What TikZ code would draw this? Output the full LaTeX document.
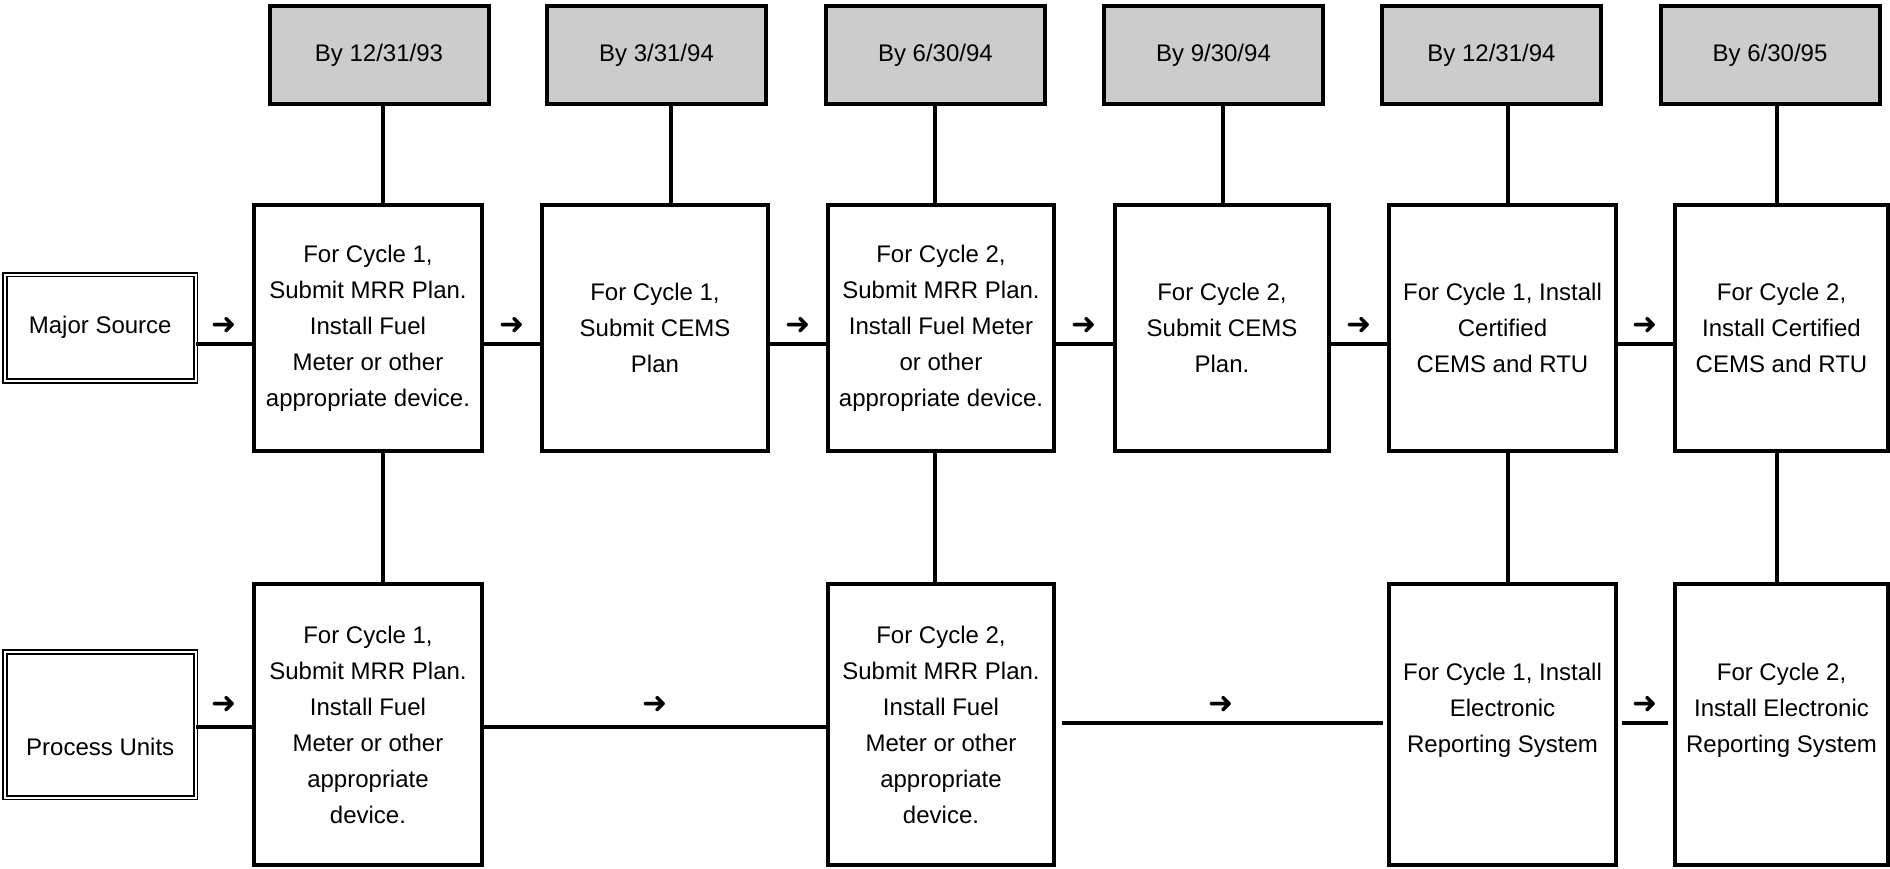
\documentclass[tikz,border=0pt]{standalone}
\usepackage{fontspec}
\setmainfont{Liberation Sans}
\newfontfamily\dingfont{DejaVu Sans}
\usetikzlibrary{positioning}
\tikzset{
  every picture/.append style={line join=miter},
  date box/.style={draw,line width=4pt,fill=black!20,minimum width=219pt,minimum height=98pt,inner sep=0pt,font=\fontsize{24}{36}\selectfont},
  step box/.style={draw,line width=4pt,minimum height=245pt,inner sep=0pt,align=center,font=\fontsize{24}{36}\selectfont},
  unit box/.style={step box,minimum height=281pt},
  unit text/.style={align=center,inner sep=0pt,yshift=14pt,font=\fontsize{24}{36}\selectfont},
  source box/.style={draw,line width=1.8pt,double,double distance=2pt,minimum width=190.5pt,inner sep=0pt,font=\fontsize{24}{36}\selectfont},
  link/.style={line width=4pt},
  flow mark/.style={midway,yshift=18pt,inner sep=0pt,font=\dingfont\fontsize{30}{30}\selectfont}
}

\begin{document}
\begin{tikzpicture}[x=1pt,y=-1pt]
  \useasboundingbox (0,0) rectangle (1890,869);

  % deadlines
  \node[date box] (due1) at (379,55) {By 12/31/93};
  \node[date box] (due2) at (656.5,55) {By 3/31/94};
  \node[date box] (due3) at (935.4,55) {By 6/30/94};
  \node[date box] (due4) at (1213.5,55) {By 9/30/94};
  \node[date box] (due5) at (1491.5,55) {By 12/31/94};
  \node[date box] (due6) at (1770,55) {By 6/30/95};

  % sources
  \node[source box,minimum height=106.5pt] (major) at (100.25,327.75) {Major Source};
  \node[source box,minimum height=145.5pt,text height=61pt] (units) at (100.25,724.75) {Process Units};

  % major source steps
  \node[step box,minimum width=228.5pt] (mrr1) at (368,328)
    {For Cycle 1,\\Submit MRR Plan.\\Install Fuel\\Meter or other\\appropriate device.};
  \node[step box,minimum width=226pt] (cems1) at (655,328)
    {For Cycle 1,\\Submit CEMS\\Plan};
  \node[step box,minimum width=226pt] (mrr2) at (941,328)
    {For Cycle 2,\\Submit MRR Plan.\\Install Fuel Meter\\or other\\appropriate device.};
  \node[step box,minimum width=214pt] (cems2) at (1222,328)
    {For Cycle 2,\\Submit CEMS\\Plan.};
  \node[step box,minimum width=227pt] (rtu1) at (1502.5,328)
    {For Cycle 1, Install\\Certified\\CEMS and RTU};
  \node[step box,minimum width=213pt] (rtu2) at (1781.5,328)
    {For Cycle 2,\\Install Certified\\CEMS and RTU};

  % process unit steps
  \node[unit box,minimum width=228.5pt] (umrr1) at (368,724.5)
    {For Cycle 1,\\Submit MRR Plan.\\Install Fuel\\Meter or other\\appropriate\\device.};
  \node[unit box,minimum width=226pt] (umrr2) at (941,724.5)
    {For Cycle 2,\\Submit MRR Plan.\\Install Fuel\\Meter or other\\appropriate\\device.};
  \node[unit box,minimum width=227pt,
    label={[unit text]center:{For Cycle 1, Install\\Electronic\\Reporting System}}] (ers1) at (1502.5,724.5) {};
  \node[unit box,minimum width=213pt,
    label={[unit text]center:{For Cycle 2,\\Install Electronic\\Reporting System}}] (ers2) at (1781.5,724.5) {};

  % columns and rows of the links
  \coordinate (c1) at (383,0);
  \coordinate (c2) at (671,0);
  \coordinate (c3) at (935,0);
  \coordinate (c4) at (1223,0);
  \coordinate (c5) at (1508,0);
  \coordinate (c6) at (1777,0);
  \coordinate (r1) at (0,344);
  \coordinate (r2) at (0,727);
  \coordinate (r3) at (0,723);

  \foreach \d/\m/\c in {due1/mrr1/c1,due2/cems1/c2,due3/mrr2/c3,due4/cems2/c4,due5/rtu1/c5,due6/rtu2/c6}
    \draw[link] (\d.south -| \c) -- (\m.north -| \c);
  \foreach \m/\u/\c in {mrr1/umrr1/c1,mrr2/umrr2/c3,rtu1/ers1/c5,rtu2/ers2/c6}
    \draw[link] (\m.south -| \c) -- (\u.north -| \c);

  \foreach \a/\b in {major/mrr1,mrr1/cems1,cems1/mrr2,mrr2/cems2,cems2/rtu1,rtu1/rtu2}
    \draw[link] (\a.east |- r1) -- (\b.west |- r1) node[flow mark] {➜};

  \draw[link] (units.east |- r2) -- (umrr1.west |- r2) node[flow mark,yshift=4pt] {➜};
  \draw[link] (umrr1.east |- r2) -- (umrr2.west |- r2) node[flow mark,yshift=4pt] {➜};
  \draw[link,shorten <=6pt,shorten >=4pt] (umrr2.east |- r3) -- (ers1.west |- r3) node[flow mark] {➜};
  \draw[link,shorten <=4pt,shorten >=5pt] (ers1.east |- r3) -- (ers2.west |- r3) node[flow mark] {➜};
\end{tikzpicture}
\end{document}
